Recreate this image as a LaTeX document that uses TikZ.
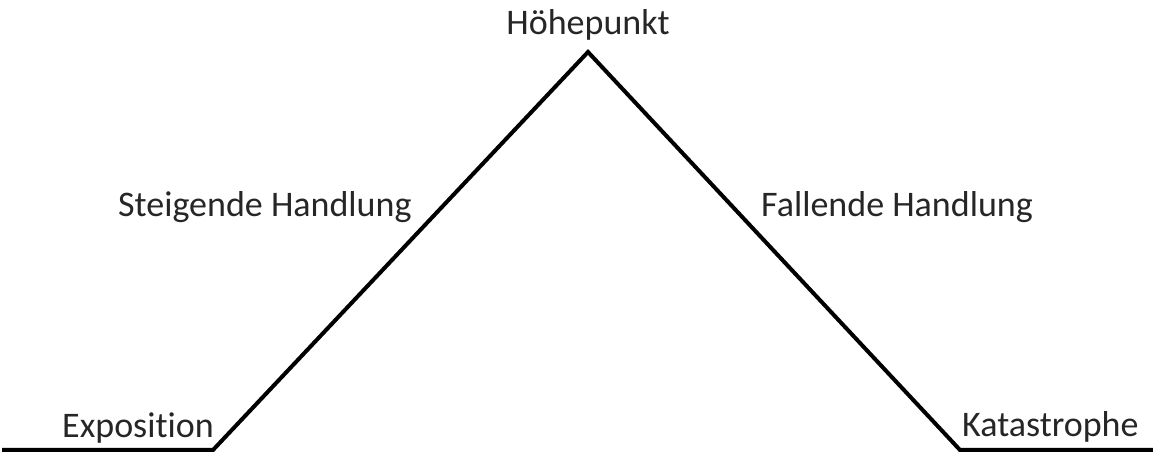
\documentclass[tikz,border=0pt]{standalone}
\usepackage{fontspec}
\setmainfont[Ligatures=NoCommon]{Carlito}
\begin{document}
\begin{tikzpicture}[x=1pt,y=1pt,
  lbl/.style={anchor=base west,inner sep=0pt,font=\fontsize{36}{42}\selectfont,text=black!85},
  curve/.style={line width=4pt,line join=miter,black}]
\useasboundingbox (0,0) rectangle (1153,452);
\coordinate (start) at (2,2);
\coordinate (a) at (213,2);
\coordinate (peak) at (588,400);
\coordinate (b) at (960,2);
\coordinate (end) at (1153,2);
\draw[curve] (start) -- (a) -- (peak) -- (b) -- (end);
\node[lbl,anchor=base] (hp) at (588,417) {Höhepunkt};
\node[lbl] (sh) at (118,235) {Steigende Handlung};
\node[lbl] (fh) at (761,235) {Fallende Handlung};
\node[lbl] (ex) at (62,14) {Exposition};
\node[lbl] (ka) at (962,15) {Katastrophe};
\end{tikzpicture}
\end{document}
